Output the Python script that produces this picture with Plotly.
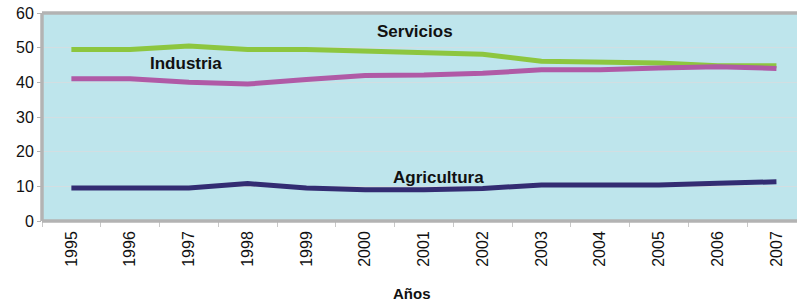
import plotly.graph_objects as go

years = ["1995","1996","1997","1998","1999","2000","2001","2002","2003","2004","2005","2006","2007"]
servicios = [49.5, 49.5, 50.5, 49.5, 49.5, 49.0, 48.6, 48.1, 46.1, 46.0, 45.6, 44.8, 44.8]
industria = [41.0, 41.0, 40.0, 39.5, 40.8, 42.0, 42.1, 42.6, 43.6, 43.6, 44.1, 44.5, 44.0]
agricultura = [9.5, 9.5, 9.5, 10.8, 9.5, 9.0, 9.0, 9.4, 10.4, 10.4, 10.4, 10.9, 11.3]

series = [
    ("Servicios", servicios, "#8DC63F"),
    ("Industria", industria, "#B05AA6"),
    ("Agricultura", agricultura, "#332C72"),
]
labels = [("Servicios", 5.85, 54.8), ("Industria", 1.95, 45.3), ("Agricultura", 6.25, 12.6)]

fig = go.Figure()
for name, vals, col in series:
    fig.add_trace(go.Scatter(x=years, y=vals, mode="lines", name=name,
                             line=dict(color=col, width=5), showlegend=False))

for txt, xi, yv in labels:
    fig.add_annotation(x=xi, y=yv, xref="x", yref="y", text="<b>%s</b>" % txt,
                       showarrow=False, font=dict(family="Liberation Sans, Arial", size=17, color="#111111"))

fig.add_annotation(x=0.49, y=-0.4, xref="paper", yref="paper", text="<b>Años</b>",
                   showarrow=False, font=dict(family="Liberation Sans, Arial", size=15, color="#111111"))

border = "#B3B3B3"
for x0, y0, x1, y1 in [(0, 1, 1, 1), (0, 0, 1, 0), (0, 0, 0, 1)]:
    fig.add_shape(type="line", xref="paper", yref="paper", x0=x0, y0=y0, x1=x1, y1=y1,
                  line=dict(color=border, width=3.5), layer="above")

fig.update_layout(
    width=797, height=302,
    margin=dict(l=42, r=0, t=13, b=81),
    paper_bgcolor="white", plot_bgcolor="#BEE5EC",
    font=dict(family="Liberation Sans, Arial", size=16, color="#111111"),
)
fig.update_xaxes(type="category", range=[-0.5, 12.35], tickangle=-90,
                 tickson="boundaries", ticks="outside", ticklen=5, tickcolor="#C8C8C8",
                 ticklabelstandoff=6,
                 showgrid=False, tickfont=dict(size=16), zeroline=False)
fig.update_yaxes(range=[0, 60], dtick=10, ticks="outside", ticklen=4, tickcolor="#B3B3B3",
                 showgrid=True, gridcolor="#D2DEE2", gridwidth=1, zeroline=False,
                 tickfont=dict(size=16))

fig.write_html("out.html", config={"displayModeBar": False},
               post_script="document.body.style.margin='0px';")
